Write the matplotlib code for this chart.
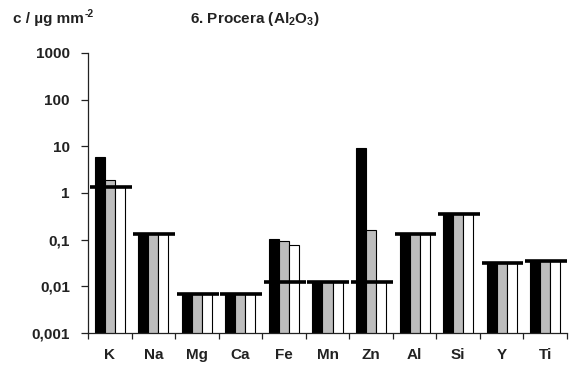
import matplotlib
matplotlib.use("Agg")
import matplotlib.pyplot as plt
import numpy as np

plt.rcParams['font.family'] = ['Liberation Sans', 'DejaVu Sans']
plt.rcParams['mathtext.fontset'] = 'custom'
plt.rcParams['mathtext.rm'] = 'Liberation Sans:bold'
plt.rcParams['mathtext.bf'] = 'Liberation Sans:bold'
plt.rcParams['mathtext.default'] = 'bf'

elements = ["K", "Na", "Mg", "Ca", "Fe", "Mn", "Zn", "Al", "Si", "Y", "Ti"]
series_black = [5.8, 0.13, 0.0067, 0.0067, 0.102, 0.0122, 9.1, 0.13, 0.355, 0.031, 0.035]
series_grey = [1.93, 0.13, 0.0067, 0.0067, 0.094, 0.0122, 0.16, 0.13, 0.355, 0.031, 0.035]
series_white = [1.35, 0.13, 0.0067, 0.0067, 0.076, 0.0122, 0.0122, 0.13, 0.355, 0.031, 0.035]
limit_values = [1.35, 0.13, 0.0067, 0.0067, 0.0122, 0.0122, 0.0122, 0.13, 0.355, 0.031, 0.035]
ytick_values = [0.001, 0.01, 0.1, 1, 10, 100, 1000]
ytick_labels = ["0,001", "0,01", "0,1", "1", "10", "100", "1000"]

txt_color = '#222222'

fig = plt.figure(figsize=(5.71, 3.67), dpi=100)
ax = fig.add_axes([88 / 571, 1 - 333 / 367, 479 / 571, 280 / 367])
ax.set_yscale('log')

x = np.arange(len(elements))
w = 0.23
ax.bar(x - w, series_black, width=w, color='black', edgecolor='black', linewidth=0.8)
ax.bar(x, series_grey, width=w, color='#bdbdbd', edgecolor='black', linewidth=0.8)
ax.bar(x + w, series_white, width=w, color='white', edgecolor='black', linewidth=0.8)
ax.hlines(limit_values, x - 0.46, x + 0.5, colors='black', linewidth=2.6, zorder=5)

ax.set_xlim(-0.5, len(elements) - 0.5)
ax.set_ylim(0.001, 1000)

ax.spines['top'].set_visible(False)
ax.spines['right'].set_visible(False)
for s in ('left', 'bottom'):
    ax.spines[s].set_linewidth(0.9)
    ax.spines[s].set_color(txt_color)

ax.set_yticks(ytick_values)
ax.set_yticklabels(ytick_labels)
ax.yaxis.set_minor_locator(matplotlib.ticker.NullLocator())
ax.tick_params(axis='y', direction='out', length=5, width=0.9, pad=8,
               labelsize=11, colors=txt_color)

ax.set_xticks(np.arange(len(elements) + 1) - 0.5)
ax.set_xticklabels([])
ax.set_xticks(x, minor=True)
ax.set_xticklabels(elements, minor=True)
ax.tick_params(axis='x', which='major', direction='out', length=4, width=0.9, colors=txt_color)
ax.tick_params(axis='x', which='minor', length=0, pad=11, labelsize=11, colors=txt_color)

for lab in ax.get_yticklabels() + ax.get_xticklabels(minor=True):
    lab.set_fontweight('bold')

# axis unit label with a short hyphen in the exponent
unit = fig.text(13 / 571, 1 - 23 / 367, "c / µg mm", fontsize=11, fontweight='bold',
                color=txt_color, ha='left', va='baseline')
fig.canvas.draw()
bb = unit.get_window_extent(renderer=fig.canvas.get_renderer())
fig.text(bb.x1 / fig.bbox.width + 0.5 / 571, 1 - 17 / 367, "-2", fontsize=7.5,
         fontweight='bold', color=txt_color, ha='left', va='baseline')

fig.text(190 / 571, 1 - 23 / 367, r"6. Procera (Al$_2$O$_3$)", fontsize=11, fontweight='bold',
         color=txt_color, ha='left', va='baseline')

fig.savefig("out.png", dpi=100)
